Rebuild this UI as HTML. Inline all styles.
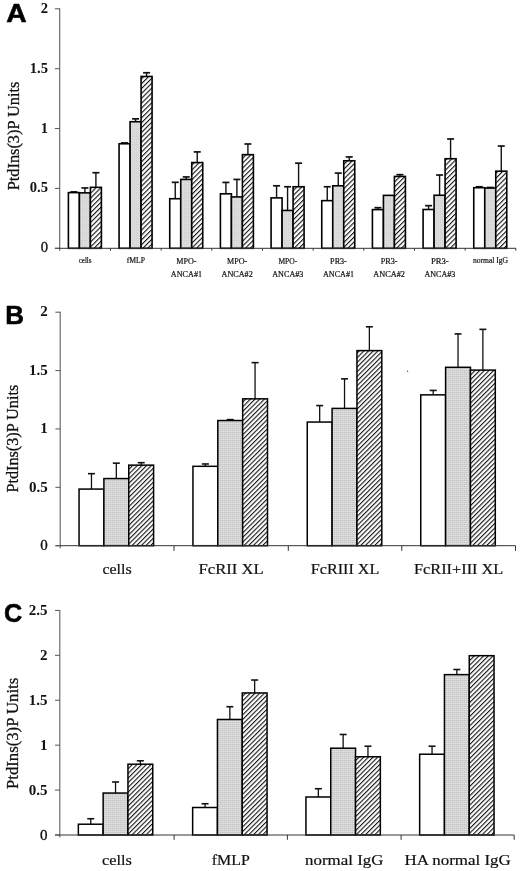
<!DOCTYPE html>
<html><head><meta charset="utf-8"><title>PtdIns(3)P Units</title>
<style>
html,body{margin:0;padding:0;background:#fff;}
body{width:520px;height:871px;overflow:hidden;}
svg{display:block;}
.pl{font-family:"Liberation Sans",Arial,sans-serif;font-weight:bold;font-size:26px;fill:#000;stroke:#000;stroke-width:0.55px;}
.yl{font-family:"Liberation Serif","Times New Roman",serif;font-weight:bold;font-size:13.5px;fill:#111;}
.yt{font-family:"Liberation Serif","Times New Roman",serif;fill:#111;stroke:#111;stroke-width:0.3px;}
.xl{font-family:"Liberation Serif","Times New Roman",serif;fill:#111;stroke:#111;stroke-width:0.2px;}
</style></head><body>
<svg width="520" height="871" viewBox="0 0 520 871">
<defs>
<pattern id="hA" patternUnits="userSpaceOnUse" width="3.45" height="3.45" patternTransform="rotate(45)"><rect x="0" y="0" width="3.45" height="3.45" fill="#fff"/><rect x="0" y="0" width="1.1" height="3.45" fill="#111"/></pattern>
<pattern id="hB" patternUnits="userSpaceOnUse" width="3.3" height="3.3" patternTransform="rotate(45)"><rect x="0" y="0" width="3.3" height="3.3" fill="#fff"/><rect x="0" y="0" width="1.12" height="3.3" fill="#1a1a1a"/></pattern>
<pattern id="gA" patternUnits="userSpaceOnUse" width="2" height="2"><rect width="2" height="2" fill="#dcdcdc"/><rect width="1" height="1" fill="#d0d0d0"/></pattern>
<pattern id="gB" patternUnits="userSpaceOnUse" width="2" height="2"><rect width="2" height="2" fill="#e4e4e4"/><rect width="2" height="1" fill="#cecece"/><rect width="1" height="2" fill="#d6d6d6"/><rect width="1" height="1" fill="#c8c8c8"/></pattern>
</defs>
<rect width="520" height="871" fill="#fff"/>
<line x1="73.9" y1="192.62" x2="73.9" y2="191.9" stroke="#111" stroke-width="1.4"/>
<line x1="70.4" y1="191.9" x2="77.4" y2="191.9" stroke="#111" stroke-width="1.7"/>
<rect x="68.4" y="192.62" width="11" height="55.68" fill="#fff" stroke="#000" stroke-width="1.6"/>
<line x1="84.9" y1="192.86" x2="84.9" y2="187.95" stroke="#111" stroke-width="1.4"/>
<line x1="81.4" y1="187.95" x2="88.4" y2="187.95" stroke="#111" stroke-width="1.7"/>
<rect x="79.4" y="192.86" width="11" height="55.44" fill="url(#gA)" stroke="#000" stroke-width="1.6"/>
<line x1="95.9" y1="187.35" x2="95.9" y2="172.74" stroke="#111" stroke-width="1.4"/>
<line x1="92.4" y1="172.74" x2="99.4" y2="172.74" stroke="#111" stroke-width="1.7"/>
<rect x="90.4" y="187.35" width="11" height="60.95" fill="url(#hA)" stroke="#000" stroke-width="1.6"/>
<line x1="124.57" y1="143.76" x2="124.57" y2="142.92" stroke="#111" stroke-width="1.4"/>
<line x1="121.07" y1="142.92" x2="128.07" y2="142.92" stroke="#111" stroke-width="1.7"/>
<rect x="119.07" y="143.76" width="11" height="104.54" fill="#fff" stroke="#000" stroke-width="1.6"/>
<line x1="135.57" y1="121.72" x2="135.57" y2="118.85" stroke="#111" stroke-width="1.4"/>
<line x1="132.07" y1="118.85" x2="139.07" y2="118.85" stroke="#111" stroke-width="1.7"/>
<rect x="130.07" y="121.72" width="11" height="126.58" fill="url(#gA)" stroke="#000" stroke-width="1.6"/>
<line x1="146.57" y1="76.46" x2="146.57" y2="72.75" stroke="#111" stroke-width="1.4"/>
<line x1="143.07" y1="72.75" x2="150.07" y2="72.75" stroke="#111" stroke-width="1.7"/>
<rect x="141.07" y="76.46" width="11" height="171.84" fill="url(#hA)" stroke="#000" stroke-width="1.6"/>
<line x1="175.24" y1="198.72" x2="175.24" y2="182.32" stroke="#111" stroke-width="1.4"/>
<line x1="171.74" y1="182.32" x2="178.74" y2="182.32" stroke="#111" stroke-width="1.7"/>
<rect x="169.74" y="198.72" width="11" height="49.58" fill="#fff" stroke="#000" stroke-width="1.6"/>
<line x1="186.24" y1="179.44" x2="186.24" y2="176.93" stroke="#111" stroke-width="1.4"/>
<line x1="182.74" y1="176.93" x2="189.74" y2="176.93" stroke="#111" stroke-width="1.7"/>
<rect x="180.74" y="179.44" width="11" height="68.86" fill="url(#gA)" stroke="#000" stroke-width="1.6"/>
<line x1="197.24" y1="162.56" x2="197.24" y2="151.9" stroke="#111" stroke-width="1.4"/>
<line x1="193.74" y1="151.9" x2="200.74" y2="151.9" stroke="#111" stroke-width="1.7"/>
<rect x="191.74" y="162.56" width="11" height="85.74" fill="url(#hA)" stroke="#000" stroke-width="1.6"/>
<line x1="225.91" y1="193.81" x2="225.91" y2="182.44" stroke="#111" stroke-width="1.4"/>
<line x1="222.41" y1="182.44" x2="229.41" y2="182.44" stroke="#111" stroke-width="1.7"/>
<rect x="220.41" y="193.81" width="11" height="54.49" fill="#fff" stroke="#000" stroke-width="1.6"/>
<line x1="236.91" y1="196.93" x2="236.91" y2="179.44" stroke="#111" stroke-width="1.4"/>
<line x1="233.41" y1="179.44" x2="240.41" y2="179.44" stroke="#111" stroke-width="1.7"/>
<rect x="231.41" y="196.93" width="11" height="51.37" fill="url(#gA)" stroke="#000" stroke-width="1.6"/>
<line x1="247.91" y1="154.66" x2="247.91" y2="144" stroke="#111" stroke-width="1.4"/>
<line x1="244.41" y1="144" x2="251.41" y2="144" stroke="#111" stroke-width="1.7"/>
<rect x="242.41" y="154.66" width="11" height="93.64" fill="url(#hA)" stroke="#000" stroke-width="1.6"/>
<line x1="276.58" y1="197.89" x2="276.58" y2="185.79" stroke="#111" stroke-width="1.4"/>
<line x1="273.08" y1="185.79" x2="280.08" y2="185.79" stroke="#111" stroke-width="1.7"/>
<rect x="271.08" y="197.89" width="11" height="50.41" fill="#fff" stroke="#000" stroke-width="1.6"/>
<line x1="287.58" y1="210.46" x2="287.58" y2="186.75" stroke="#111" stroke-width="1.4"/>
<line x1="284.08" y1="186.75" x2="291.08" y2="186.75" stroke="#111" stroke-width="1.7"/>
<rect x="282.08" y="210.46" width="11" height="37.84" fill="url(#gA)" stroke="#000" stroke-width="1.6"/>
<line x1="298.58" y1="186.75" x2="298.58" y2="163.16" stroke="#111" stroke-width="1.4"/>
<line x1="295.08" y1="163.16" x2="302.08" y2="163.16" stroke="#111" stroke-width="1.7"/>
<rect x="293.08" y="186.75" width="11" height="61.55" fill="url(#hA)" stroke="#000" stroke-width="1.6"/>
<line x1="327.25" y1="200.64" x2="327.25" y2="186.75" stroke="#111" stroke-width="1.4"/>
<line x1="323.75" y1="186.75" x2="330.75" y2="186.75" stroke="#111" stroke-width="1.7"/>
<rect x="321.75" y="200.64" width="11" height="47.66" fill="#fff" stroke="#000" stroke-width="1.6"/>
<line x1="338.25" y1="185.79" x2="338.25" y2="173.1" stroke="#111" stroke-width="1.4"/>
<line x1="334.75" y1="173.1" x2="341.75" y2="173.1" stroke="#111" stroke-width="1.7"/>
<rect x="332.75" y="185.79" width="11" height="62.51" fill="url(#gA)" stroke="#000" stroke-width="1.6"/>
<line x1="349.25" y1="160.76" x2="349.25" y2="156.93" stroke="#111" stroke-width="1.4"/>
<line x1="345.75" y1="156.93" x2="352.75" y2="156.93" stroke="#111" stroke-width="1.7"/>
<rect x="343.75" y="160.76" width="11" height="87.54" fill="url(#hA)" stroke="#000" stroke-width="1.6"/>
<line x1="377.92" y1="209.62" x2="377.92" y2="207.7" stroke="#111" stroke-width="1.4"/>
<line x1="374.42" y1="207.7" x2="381.42" y2="207.7" stroke="#111" stroke-width="1.7"/>
<rect x="372.42" y="209.62" width="11" height="38.68" fill="#fff" stroke="#000" stroke-width="1.6"/>
<rect x="383.42" y="195.37" width="11" height="52.93" fill="url(#gA)" stroke="#000" stroke-width="1.6"/>
<line x1="399.92" y1="176.45" x2="399.92" y2="174.65" stroke="#111" stroke-width="1.4"/>
<line x1="396.42" y1="174.65" x2="403.42" y2="174.65" stroke="#111" stroke-width="1.7"/>
<rect x="394.42" y="176.45" width="11" height="71.85" fill="url(#hA)" stroke="#000" stroke-width="1.6"/>
<line x1="428.59" y1="209.5" x2="428.59" y2="205.67" stroke="#111" stroke-width="1.4"/>
<line x1="425.09" y1="205.67" x2="432.09" y2="205.67" stroke="#111" stroke-width="1.7"/>
<rect x="423.09" y="209.5" width="11" height="38.8" fill="#fff" stroke="#000" stroke-width="1.6"/>
<line x1="439.59" y1="195.25" x2="439.59" y2="175.01" stroke="#111" stroke-width="1.4"/>
<line x1="436.09" y1="175.01" x2="443.09" y2="175.01" stroke="#111" stroke-width="1.7"/>
<rect x="434.09" y="195.25" width="11" height="53.05" fill="url(#gA)" stroke="#000" stroke-width="1.6"/>
<line x1="450.59" y1="158.73" x2="450.59" y2="138.97" stroke="#111" stroke-width="1.4"/>
<line x1="447.09" y1="138.97" x2="454.09" y2="138.97" stroke="#111" stroke-width="1.7"/>
<rect x="445.09" y="158.73" width="11" height="89.57" fill="url(#hA)" stroke="#000" stroke-width="1.6"/>
<line x1="479.26" y1="187.71" x2="479.26" y2="186.75" stroke="#111" stroke-width="1.4"/>
<line x1="475.76" y1="186.75" x2="482.76" y2="186.75" stroke="#111" stroke-width="1.7"/>
<rect x="473.76" y="187.71" width="11" height="60.59" fill="#fff" stroke="#000" stroke-width="1.6"/>
<line x1="490.26" y1="188.07" x2="490.26" y2="187.47" stroke="#111" stroke-width="1.4"/>
<line x1="486.76" y1="187.47" x2="493.76" y2="187.47" stroke="#111" stroke-width="1.7"/>
<rect x="484.76" y="188.07" width="11" height="60.23" fill="url(#gA)" stroke="#000" stroke-width="1.6"/>
<line x1="501.26" y1="171.18" x2="501.26" y2="146.03" stroke="#111" stroke-width="1.4"/>
<line x1="497.76" y1="146.03" x2="504.76" y2="146.03" stroke="#111" stroke-width="1.7"/>
<rect x="495.76" y="171.18" width="11" height="77.12" fill="url(#hA)" stroke="#000" stroke-width="1.6"/>
<line x1="59.7" y1="8.3" x2="59.7" y2="250.8" stroke="#666" stroke-width="1.15"/>
<line x1="54.9" y1="248.3" x2="516" y2="248.3" stroke="#333" stroke-width="1"/>
<line x1="110.47" y1="248.3" x2="110.47" y2="250.6" stroke="#333" stroke-width="1"/>
<line x1="161.14" y1="248.3" x2="161.14" y2="250.6" stroke="#333" stroke-width="1"/>
<line x1="211.81" y1="248.3" x2="211.81" y2="250.6" stroke="#333" stroke-width="1"/>
<line x1="262.48" y1="248.3" x2="262.48" y2="250.6" stroke="#333" stroke-width="1"/>
<line x1="313.15" y1="248.3" x2="313.15" y2="250.6" stroke="#333" stroke-width="1"/>
<line x1="363.82" y1="248.3" x2="363.82" y2="250.6" stroke="#333" stroke-width="1"/>
<line x1="414.49" y1="248.3" x2="414.49" y2="250.6" stroke="#333" stroke-width="1"/>
<line x1="465.16" y1="248.3" x2="465.16" y2="250.6" stroke="#333" stroke-width="1"/>
<line x1="515.83" y1="248.3" x2="515.83" y2="250.6" stroke="#333" stroke-width="1"/>
<line x1="54.9" y1="248.3" x2="59.7" y2="248.3" stroke="#555" stroke-width="1"/>
<text x="48" y="252.3" class="yl" style="font-size:14.6px;font-weight:normal;stroke:#111;stroke-width:0.35px" text-anchor="end">0</text>
<line x1="54.9" y1="188.43" x2="59.7" y2="188.43" stroke="#555" stroke-width="1"/>
<text x="48" y="192.43" class="yl" style="font-size:14.6px" text-anchor="end">0.5</text>
<line x1="54.9" y1="128.55" x2="59.7" y2="128.55" stroke="#555" stroke-width="1"/>
<text x="48" y="132.55" class="yl" style="font-size:14.6px" text-anchor="end">1</text>
<line x1="54.9" y1="68.68" x2="59.7" y2="68.68" stroke="#555" stroke-width="1"/>
<text x="48" y="72.68" class="yl" style="font-size:14.6px" text-anchor="end">1.5</text>
<line x1="54.9" y1="8.8" x2="59.7" y2="8.8" stroke="#555" stroke-width="1"/>
<text x="48" y="12.8" class="yl" style="font-size:14.6px" text-anchor="end">2</text>
<line x1="91.47" y1="489.08" x2="91.47" y2="473.67" stroke="#111" stroke-width="1.3"/>
<line x1="87.97" y1="473.67" x2="94.97" y2="473.67" stroke="#111" stroke-width="1.6"/>
<rect x="79.05" y="489.08" width="24.85" height="56.62" fill="#fff" stroke="#000" stroke-width="1.5"/>
<line x1="116.33" y1="478.57" x2="116.33" y2="463.16" stroke="#111" stroke-width="1.3"/>
<line x1="112.83" y1="463.16" x2="119.83" y2="463.16" stroke="#111" stroke-width="1.6"/>
<rect x="103.9" y="478.57" width="24.85" height="67.13" fill="url(#gB)" stroke="#000" stroke-width="1.5"/>
<line x1="141.18" y1="465.14" x2="141.18" y2="462.69" stroke="#111" stroke-width="1.3"/>
<line x1="137.68" y1="462.69" x2="144.68" y2="462.69" stroke="#111" stroke-width="1.6"/>
<rect x="128.75" y="465.14" width="24.85" height="80.56" fill="url(#hB)" stroke="#000" stroke-width="1.5"/>
<line x1="205.38" y1="466.31" x2="205.38" y2="463.98" stroke="#111" stroke-width="1.3"/>
<line x1="201.88" y1="463.98" x2="208.88" y2="463.98" stroke="#111" stroke-width="1.6"/>
<rect x="192.95" y="466.31" width="24.85" height="79.39" fill="#fff" stroke="#000" stroke-width="1.5"/>
<line x1="230.22" y1="420.54" x2="230.22" y2="419.61" stroke="#111" stroke-width="1.3"/>
<line x1="226.72" y1="419.61" x2="233.72" y2="419.61" stroke="#111" stroke-width="1.6"/>
<rect x="217.8" y="420.54" width="24.85" height="125.16" fill="url(#gB)" stroke="#000" stroke-width="1.5"/>
<line x1="255.07" y1="398.83" x2="255.07" y2="362.64" stroke="#111" stroke-width="1.3"/>
<line x1="251.57" y1="362.64" x2="258.57" y2="362.64" stroke="#111" stroke-width="1.6"/>
<rect x="242.65" y="398.83" width="24.85" height="146.87" fill="url(#hB)" stroke="#000" stroke-width="1.5"/>
<line x1="319.68" y1="422.06" x2="319.68" y2="405.6" stroke="#111" stroke-width="1.3"/>
<line x1="316.18" y1="405.6" x2="323.18" y2="405.6" stroke="#111" stroke-width="1.6"/>
<rect x="307.25" y="422.06" width="24.85" height="123.64" fill="#fff" stroke="#000" stroke-width="1.5"/>
<line x1="344.53" y1="408.4" x2="344.53" y2="378.86" stroke="#111" stroke-width="1.3"/>
<line x1="341.03" y1="378.86" x2="348.03" y2="378.86" stroke="#111" stroke-width="1.6"/>
<rect x="332.1" y="408.4" width="24.85" height="137.3" fill="url(#gB)" stroke="#000" stroke-width="1.5"/>
<line x1="369.38" y1="350.61" x2="369.38" y2="326.79" stroke="#111" stroke-width="1.3"/>
<line x1="365.88" y1="326.79" x2="372.88" y2="326.79" stroke="#111" stroke-width="1.6"/>
<rect x="356.95" y="350.61" width="24.85" height="195.09" fill="url(#hB)" stroke="#000" stroke-width="1.5"/>
<line x1="433.18" y1="394.86" x2="433.18" y2="390.42" stroke="#111" stroke-width="1.3"/>
<line x1="429.68" y1="390.42" x2="436.68" y2="390.42" stroke="#111" stroke-width="1.6"/>
<rect x="420.75" y="394.86" width="24.85" height="150.84" fill="#fff" stroke="#000" stroke-width="1.5"/>
<line x1="458.03" y1="367.31" x2="458.03" y2="333.92" stroke="#111" stroke-width="1.3"/>
<line x1="454.53" y1="333.92" x2="461.53" y2="333.92" stroke="#111" stroke-width="1.6"/>
<rect x="445.6" y="367.31" width="24.85" height="178.39" fill="url(#gB)" stroke="#000" stroke-width="1.5"/>
<line x1="482.88" y1="370.11" x2="482.88" y2="329.36" stroke="#111" stroke-width="1.3"/>
<line x1="479.38" y1="329.36" x2="486.38" y2="329.36" stroke="#111" stroke-width="1.6"/>
<rect x="470.45" y="370.11" width="24.85" height="175.59" fill="url(#hB)" stroke="#000" stroke-width="1.5"/>
<line x1="60.2" y1="311.7" x2="60.2" y2="548.2" stroke="#666" stroke-width="1.15"/>
<line x1="55.4" y1="545.7" x2="515.5" y2="545.7" stroke="#333" stroke-width="1"/>
<line x1="174" y1="545.7" x2="174" y2="550.9" stroke="#333" stroke-width="1"/>
<line x1="288.3" y1="545.7" x2="288.3" y2="550.9" stroke="#333" stroke-width="1"/>
<line x1="401.8" y1="545.7" x2="401.8" y2="550.9" stroke="#333" stroke-width="1"/>
<line x1="515.5" y1="545.7" x2="515.5" y2="550.9" stroke="#333" stroke-width="1"/>
<line x1="55.4" y1="545.7" x2="60.2" y2="545.7" stroke="#555" stroke-width="1"/>
<text x="47.8" y="550.2" class="yl" style="font-size:15px;font-weight:normal;stroke:#111;stroke-width:0.35px" text-anchor="end">0</text>
<line x1="55.4" y1="487.33" x2="60.2" y2="487.33" stroke="#555" stroke-width="1"/>
<text x="47.8" y="491.83" class="yl" style="font-size:15px" text-anchor="end">0.5</text>
<line x1="55.4" y1="428.95" x2="60.2" y2="428.95" stroke="#555" stroke-width="1"/>
<text x="47.8" y="433.45" class="yl" style="font-size:15px" text-anchor="end">1</text>
<line x1="55.4" y1="370.58" x2="60.2" y2="370.58" stroke="#555" stroke-width="1"/>
<text x="47.8" y="375.08" class="yl" style="font-size:15px" text-anchor="end">1.5</text>
<line x1="55.4" y1="312.2" x2="60.2" y2="312.2" stroke="#555" stroke-width="1"/>
<text x="47.8" y="315.9" class="yl" style="font-size:15px" text-anchor="end">2</text>
<line x1="90.75" y1="824.22" x2="90.75" y2="818.74" stroke="#111" stroke-width="1.3"/>
<line x1="87.25" y1="818.74" x2="94.25" y2="818.74" stroke="#111" stroke-width="1.6"/>
<rect x="78.35" y="824.22" width="24.8" height="10.78" fill="#fff" stroke="#000" stroke-width="1.5"/>
<line x1="115.55" y1="793.04" x2="115.55" y2="781.99" stroke="#111" stroke-width="1.3"/>
<line x1="112.05" y1="781.99" x2="119.05" y2="781.99" stroke="#111" stroke-width="1.6"/>
<rect x="103.15" y="793.04" width="24.8" height="41.96" fill="url(#gB)" stroke="#000" stroke-width="1.5"/>
<line x1="140.35" y1="764.21" x2="140.35" y2="760.79" stroke="#111" stroke-width="1.3"/>
<line x1="136.85" y1="760.79" x2="143.85" y2="760.79" stroke="#111" stroke-width="1.6"/>
<rect x="127.95" y="764.21" width="24.8" height="70.79" fill="url(#hB)" stroke="#000" stroke-width="1.5"/>
<line x1="205.05" y1="807.51" x2="205.05" y2="803.74" stroke="#111" stroke-width="1.3"/>
<line x1="201.55" y1="803.74" x2="208.55" y2="803.74" stroke="#111" stroke-width="1.6"/>
<rect x="192.65" y="807.51" width="24.8" height="27.49" fill="#fff" stroke="#000" stroke-width="1.5"/>
<line x1="229.85" y1="719.47" x2="229.85" y2="706.71" stroke="#111" stroke-width="1.3"/>
<line x1="226.35" y1="706.71" x2="233.35" y2="706.71" stroke="#111" stroke-width="1.6"/>
<rect x="217.45" y="719.47" width="24.8" height="115.53" fill="url(#gB)" stroke="#000" stroke-width="1.5"/>
<line x1="254.65" y1="692.96" x2="254.65" y2="680.03" stroke="#111" stroke-width="1.3"/>
<line x1="251.15" y1="680.03" x2="258.15" y2="680.03" stroke="#111" stroke-width="1.6"/>
<rect x="242.25" y="692.96" width="24.8" height="142.04" fill="url(#hB)" stroke="#000" stroke-width="1.5"/>
<line x1="318.35" y1="797" x2="318.35" y2="788.73" stroke="#111" stroke-width="1.3"/>
<line x1="314.85" y1="788.73" x2="321.85" y2="788.73" stroke="#111" stroke-width="1.6"/>
<rect x="305.95" y="797" width="24.8" height="38" fill="#fff" stroke="#000" stroke-width="1.5"/>
<line x1="343.15" y1="748.21" x2="343.15" y2="734.47" stroke="#111" stroke-width="1.3"/>
<line x1="339.65" y1="734.47" x2="346.65" y2="734.47" stroke="#111" stroke-width="1.6"/>
<rect x="330.75" y="748.21" width="24.8" height="86.79" fill="url(#gB)" stroke="#000" stroke-width="1.5"/>
<line x1="367.95" y1="756.75" x2="367.95" y2="746.24" stroke="#111" stroke-width="1.3"/>
<line x1="364.45" y1="746.24" x2="371.45" y2="746.24" stroke="#111" stroke-width="1.6"/>
<rect x="355.55" y="756.75" width="24.8" height="78.25" fill="url(#hB)" stroke="#000" stroke-width="1.5"/>
<line x1="432.05" y1="754.23" x2="432.05" y2="746.24" stroke="#111" stroke-width="1.3"/>
<line x1="428.55" y1="746.24" x2="435.55" y2="746.24" stroke="#111" stroke-width="1.6"/>
<rect x="419.65" y="754.23" width="24.8" height="80.77" fill="#fff" stroke="#000" stroke-width="1.5"/>
<line x1="456.85" y1="674.64" x2="456.85" y2="669.51" stroke="#111" stroke-width="1.3"/>
<line x1="453.35" y1="669.51" x2="460.35" y2="669.51" stroke="#111" stroke-width="1.6"/>
<rect x="444.45" y="674.64" width="24.8" height="160.36" fill="url(#gB)" stroke="#000" stroke-width="1.5"/>
<rect x="469.25" y="655.68" width="24.8" height="179.32" fill="url(#hB)" stroke="#000" stroke-width="1.5"/>
<line x1="59.8" y1="609.9" x2="59.8" y2="837.5" stroke="#666" stroke-width="1.15"/>
<line x1="55" y1="835" x2="514.2" y2="835" stroke="#333" stroke-width="1"/>
<line x1="174.1" y1="835" x2="174.1" y2="839.8" stroke="#333" stroke-width="1"/>
<line x1="287.4" y1="835" x2="287.4" y2="839.8" stroke="#333" stroke-width="1"/>
<line x1="401.1" y1="835" x2="401.1" y2="839.8" stroke="#333" stroke-width="1"/>
<line x1="514.2" y1="835" x2="514.2" y2="839.8" stroke="#333" stroke-width="1"/>
<line x1="55" y1="835" x2="59.8" y2="835" stroke="#555" stroke-width="1"/>
<text x="47.4" y="839.6" class="yl" style="font-size:15px;font-weight:normal;stroke:#111;stroke-width:0.35px" text-anchor="end">0</text>
<line x1="55" y1="790.08" x2="59.8" y2="790.08" stroke="#555" stroke-width="1"/>
<text x="47.4" y="794.68" class="yl" style="font-size:15px" text-anchor="end">0.5</text>
<line x1="55" y1="745.16" x2="59.8" y2="745.16" stroke="#555" stroke-width="1"/>
<text x="47.4" y="749.76" class="yl" style="font-size:15px" text-anchor="end">1</text>
<line x1="55" y1="700.24" x2="59.8" y2="700.24" stroke="#555" stroke-width="1"/>
<text x="47.4" y="704.84" class="yl" style="font-size:15px" text-anchor="end">1.5</text>
<line x1="55" y1="655.32" x2="59.8" y2="655.32" stroke="#555" stroke-width="1"/>
<text x="47.4" y="659.92" class="yl" style="font-size:15px" text-anchor="end">2</text>
<line x1="55" y1="610.4" x2="59.8" y2="610.4" stroke="#555" stroke-width="1"/>
<text x="47.4" y="615" class="yl" style="font-size:15px" text-anchor="end">2.5</text>
<text transform="translate(6.3,22.4) scale(1.09,1)" class="pl">A</text>
<text transform="translate(5.2,324.4)" class="pl">B</text>
<text transform="translate(3.9,622.3) scale(0.97,1)" class="pl">C</text>
<text transform="translate(18.6,136) rotate(-90)" text-anchor="middle" class="yt" style="font-size:17px" textLength="108.6" lengthAdjust="spacingAndGlyphs">PtdIns(3)P Units</text>
<text transform="translate(18.4,438.7) rotate(-90)" text-anchor="middle" class="yt" style="font-size:17px" textLength="107.8" lengthAdjust="spacingAndGlyphs">PtdIns(3)P Units</text>
<text transform="translate(18.4,733.4) rotate(-90)" text-anchor="middle" class="yt" style="font-size:17.2px" textLength="111.2" lengthAdjust="spacingAndGlyphs">PtdIns(3)P Units</text>
<text x="85.13" y="263.4" text-anchor="middle" class="xl" style="font-size:8px" textLength="12.9" lengthAdjust="spacingAndGlyphs">cells</text>
<text x="135.81" y="263.4" text-anchor="middle" class="xl" style="font-size:8px" textLength="18.3" lengthAdjust="spacingAndGlyphs">fMLP</text>
<text x="186.47" y="263.8" text-anchor="middle" class="xl" style="font-size:8px" textLength="20.2" lengthAdjust="spacingAndGlyphs">MPO-</text>
<text x="186.47" y="276.5" text-anchor="middle" class="xl" style="font-size:8px" textLength="31.2" lengthAdjust="spacingAndGlyphs">ANCA#1</text>
<text x="237.15" y="263.8" text-anchor="middle" class="xl" style="font-size:8px" textLength="20.2" lengthAdjust="spacingAndGlyphs">MPO-</text>
<text x="237.15" y="276.5" text-anchor="middle" class="xl" style="font-size:8px" textLength="31.2" lengthAdjust="spacingAndGlyphs">ANCA#2</text>
<text x="287.82" y="263.8" text-anchor="middle" class="xl" style="font-size:8px" textLength="18.8" lengthAdjust="spacingAndGlyphs">MPO-</text>
<text x="287.82" y="276.5" text-anchor="middle" class="xl" style="font-size:8px" textLength="31.1" lengthAdjust="spacingAndGlyphs">ANCA#3</text>
<text x="338.49" y="263.8" text-anchor="middle" class="xl" style="font-size:8px" textLength="16.7" lengthAdjust="spacingAndGlyphs">PR3-</text>
<text x="338.49" y="276.5" text-anchor="middle" class="xl" style="font-size:8px" textLength="31.1" lengthAdjust="spacingAndGlyphs">ANCA#1</text>
<text x="389.15" y="263.8" text-anchor="middle" class="xl" style="font-size:8px" textLength="16.9" lengthAdjust="spacingAndGlyphs">PR3-</text>
<text x="389.15" y="276.5" text-anchor="middle" class="xl" style="font-size:8px" textLength="31.7" lengthAdjust="spacingAndGlyphs">ANCA#2</text>
<text x="439.83" y="263.8" text-anchor="middle" class="xl" style="font-size:8px" textLength="17.8" lengthAdjust="spacingAndGlyphs">PR3-</text>
<text x="439.83" y="276.5" text-anchor="middle" class="xl" style="font-size:8px" textLength="30.8" lengthAdjust="spacingAndGlyphs">ANCA#3</text>
<text x="490.5" y="263.4" text-anchor="middle" class="xl" style="font-size:8px" textLength="35.1" lengthAdjust="spacingAndGlyphs">normal IgG</text>
<text x="117.05" y="574.3" text-anchor="middle" class="xl" style="font-size:15px" textLength="29.2" lengthAdjust="spacingAndGlyphs">cells</text>
<text x="231.15" y="574.3" text-anchor="middle" class="xl" style="font-size:15px" textLength="65.3" lengthAdjust="spacingAndGlyphs">FcRII XL</text>
<text x="345.05" y="574.3" text-anchor="middle" class="xl" style="font-size:15px" textLength="68.5" lengthAdjust="spacingAndGlyphs">FcRIII XL</text>
<text x="458.65" y="574.3" text-anchor="middle" class="xl" style="font-size:15px" textLength="89.3" lengthAdjust="spacingAndGlyphs">FcRII+III XL</text>
<text x="116.95" y="865.2" text-anchor="middle" class="xl" style="font-size:15px" textLength="29.8" lengthAdjust="spacingAndGlyphs">cells</text>
<text x="230.75" y="865.2" text-anchor="middle" class="xl" style="font-size:15px" textLength="38" lengthAdjust="spacingAndGlyphs">fMLP</text>
<text x="344.25" y="865.2" text-anchor="middle" class="xl" style="font-size:15px" textLength="78.3" lengthAdjust="spacingAndGlyphs">normal IgG</text>
<text x="457.65" y="865.2" text-anchor="middle" class="xl" style="font-size:15px" textLength="106.2" lengthAdjust="spacingAndGlyphs">HA normal IgG</text>
<circle cx="407.6" cy="371.2" r="0.7" fill="#555"/>
</svg>
</body></html>
